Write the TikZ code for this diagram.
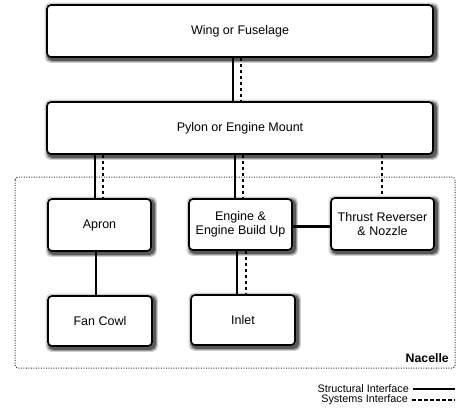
\documentclass[tikz,border=0pt]{standalone}
\usepackage{fontspec}
\setmainfont{Liberation Sans}
\pgfdeclarelayer{background}
\pgfsetlayers{background,main}
\begin{document}
\begin{tikzpicture}[x=1pt,y=-1pt,
  box/.style={draw=black, line width=1.6pt, rounded corners=4pt, fill=white,
    align=center, font=\fontsize{12.5}{14.5}\selectfont, inner sep=0pt},
  shadowbox/.style={rounded corners=5pt},
  structural/.style={line width=2.2pt},
  systems/.style={line width=1.8pt, dash pattern=on 3.5pt off 2.5pt},
  legendtext/.style={font=\fontsize{10.8}{12}\selectfont, inner sep=0pt}]
\useasboundingbox (0,0) rectangle (461,410);
% Nacelle region
\draw[line width=1pt, black!80, dash pattern=on 1pt off 1.5pt, rounded corners=3pt] (15,177) rectangle (455,368);
\node[anchor=south east, font=\bfseries\fontsize{12.3}{14}\selectfont, inner sep=0pt] (nac) at (449,363) {Nacelle};
% boxes
\node[box, minimum width=386pt, minimum height=52pt] (wing) at (240,31) {Wing or Fuselage};
\node[box, minimum width=386pt, minimum height=52pt] (pylon) at (240,128) {Pylon or Engine Mount};
\node[box, minimum width=103pt, minimum height=52pt] (apron) at (99.5,225) {Apron};
\node[box, minimum width=103pt, minimum height=51pt] (engine) at (240.5,224.5) {Engine \&\\Engine Build Up};
\node[box, minimum width=103pt, minimum height=52pt] (tr) at (382.5,224) {Thrust Reverser\\\& Nozzle};
\node[box, minimum width=104pt, minimum height=50pt] (fan) at (100,321) {Fan Cowl};
\node[box, minimum width=104pt, minimum height=50pt] (inlet) at (243,320) {Inlet};
% shadows
\begin{pgfonlayer}{background}
\foreach \n in {wing,pylon,apron,engine,tr,fan,inlet}{
  \fill[shadowbox, black!18] ([shift={(-1.5,-1.5)}]\n.north west) rectangle ([shift={(5,5)}]\n.south east);
  \fill[shadowbox, black!40] ([shift={(0,0)}]\n.north west) rectangle ([shift={(4,4)}]\n.south east);
  \fill[shadowbox, black!65] ([shift={(1,1)}]\n.north west) rectangle ([shift={(3,3)}]\n.south east);
}
\end{pgfonlayer}
% connectors
\draw[structural] ([xshift=-7pt]wing.south) -- ([xshift=-7pt]wing.south |- pylon.north);
\draw[systems] ([xshift=1pt]wing.south) -- ([xshift=1pt]wing.south |- pylon.north);
\draw[structural] ([xshift=-4.5pt]apron.north |- pylon.south) -- ([xshift=-4.5pt]apron.north);
\draw[systems] ([xshift=3.5pt]apron.north |- pylon.south) -- ([xshift=3.5pt]apron.north);
\draw[structural] ([xshift=-5.5pt]engine.north |- pylon.south) -- ([xshift=-5.5pt]engine.north);
\draw[systems] ([xshift=2.5pt]engine.north |- pylon.south) -- ([xshift=2.5pt]engine.north);
\draw[systems] ([xshift=-0.5pt]tr.north |- pylon.south) -- ([xshift=-0.5pt]tr.north);
\draw[structural] ([xshift=-3.5pt]apron.south) -- ([xshift=-3.5pt]apron.south |- fan.north);
\draw[structural] ([xshift=-3.5pt]engine.south) -- ([xshift=-3.5pt]engine.south |- inlet.north);
\draw[systems] ([xshift=5.5pt]engine.south) -- ([xshift=5.5pt]engine.south |- inlet.north);
\draw[structural] ([yshift=-2pt]engine.east) -- ([yshift=-2pt]engine.east -| tr.west);
% legend
\node[legendtext, anchor=east] (l1) at (409,389) {Structural Interface};
\node[legendtext, anchor=east] (l2) at (408,400) {Systems Interface};
\coordinate (l1e) at (455,389);
\coordinate (l2e) at (455,400);
\draw[structural] ([xshift=4pt]l1.east) -- (l1e);
\draw[systems] ([xshift=4pt]l2.east) -- (l2e);
\end{tikzpicture}
\end{document}
